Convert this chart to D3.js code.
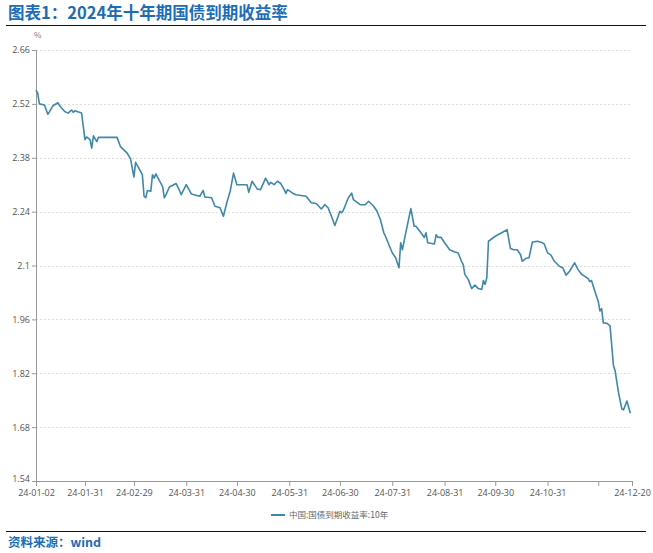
<!DOCTYPE html>
<html>
<head>
<meta charset="utf-8">
<script src="https://cdn.jsdelivr.net/npm/d3@7"></script>
<style>
  body { margin: 0; background: #fff; font-family: "Noto Sans CJK SC", "Noto Sans", sans-serif; }
  .axis text { font-family: "Open Sans", "Noto Sans", sans-serif; font-size: 9px; fill: #555; }
  .axis path, .axis line { stroke: #999; }
</style>
</head>
<body>
<div class="chart"></div>
<script>
// 中国:国债到期收益率:10年 (%), 2024
const dates = [
  "2024-01-02","2024-01-03","2024-01-04","2024-01-07","2024-01-09","2024-01-10","2024-01-12","2024-01-15",
  "2024-01-16","2024-01-19","2024-01-21","2024-01-23","2024-01-24","2024-01-25","2024-01-29","2024-01-31",
  "2024-02-01","2024-02-03","2024-02-04","2024-02-05","2024-02-07","2024-02-08","2024-02-19","2024-02-21",
  "2024-02-25","2024-02-27","2024-02-29","2024-03-01","2024-03-05","2024-03-06","2024-03-07","2024-03-08",
  "2024-03-10","2024-03-11","2024-03-12","2024-03-13","2024-03-15","2024-03-17","2024-03-18","2024-03-19",
  "2024-03-21","2024-03-25","2024-03-27","2024-03-28","2024-03-31","2024-04-03","2024-04-08","2024-04-10",
  "2024-04-11","2024-04-15","2024-04-17","2024-04-20","2024-04-22","2024-04-24","2024-04-26","2024-04-28",
  "2024-04-30","2024-05-06","2024-05-07","2024-05-09","2024-05-12","2024-05-14","2024-05-17","2024-05-19",
  "2024-05-20","2024-05-22","2024-05-24","2024-05-26","2024-05-28","2024-05-29","2024-05-30","2024-06-02",
  "2024-06-04","2024-06-10","2024-06-13","2024-06-16","2024-06-19","2024-06-21","2024-06-23","2024-06-25",
  "2024-06-27","2024-06-30","2024-07-01","2024-07-02","2024-07-05","2024-07-07","2024-07-08","2024-07-12",
  "2024-07-15","2024-07-17","2024-07-20","2024-07-22","2024-07-24","2024-07-26","2024-07-27","2024-07-29",
  "2024-07-31","2024-08-02","2024-08-04","2024-08-05","2024-08-06","2024-08-08","2024-08-11","2024-08-13",
  "2024-08-14","2024-08-17","2024-08-19","2024-08-20","2024-08-21","2024-08-25","2024-08-26","2024-08-27",
  "2024-08-29","2024-08-31","2024-09-03","2024-09-06","2024-09-08","2024-09-10","2024-09-11","2024-09-12",
  "2024-09-14","2024-09-16","2024-09-18","2024-09-20","2024-09-22","2024-09-23","2024-09-24","2024-09-25",
  "2024-09-26","2024-09-30","2024-10-07","2024-10-09","2024-10-11","2024-10-13","2024-10-15","2024-10-16",
  "2024-10-18","2024-10-20","2024-10-22","2024-10-25","2024-10-28","2024-10-29","2024-10-31","2024-11-02",
  "2024-11-04","2024-11-07","2024-11-09","2024-11-11","2024-11-13","2024-11-16","2024-11-18","2024-11-20",
  "2024-11-24","2024-11-25","2024-11-26","2024-11-28","2024-11-30","2024-12-01","2024-12-02","2024-12-03",
  "2024-12-05","2024-12-07","2024-12-09","2024-12-10","2024-12-12","2024-12-14","2024-12-15","2024-12-17",
  "2024-12-19"
];
const yields = [
  2.556,2.548,2.520,2.517,2.493,2.500,2.515,2.523,
  2.515,2.500,2.496,2.504,2.498,2.502,2.496,2.427,
  2.434,2.427,2.405,2.437,2.422,2.433,2.433,2.409,
  2.392,2.377,2.330,2.368,2.336,2.280,2.276,2.295,
  2.293,2.336,2.327,2.338,2.321,2.305,2.276,2.284,
  2.304,2.313,2.295,2.284,2.310,2.286,2.280,2.295,
  2.278,2.276,2.254,2.250,2.228,2.263,2.293,2.340,
  2.310,2.310,2.290,2.319,2.299,2.297,2.327,2.310,
  2.316,2.310,2.319,2.313,2.297,2.287,2.297,2.288,
  2.284,2.280,2.263,2.261,2.247,2.258,2.250,2.228,
  2.204,2.241,2.237,2.243,2.276,2.288,2.271,2.258,
  2.258,2.267,2.254,2.241,2.219,2.185,2.176,2.154,
  2.133,2.120,2.094,2.159,2.141,2.185,2.248,2.202,
  2.202,2.185,2.173,2.185,2.159,2.156,2.180,2.173,
  2.173,2.159,2.141,2.135,2.133,2.111,2.103,2.077,
  2.064,2.040,2.049,2.040,2.038,2.061,2.051,2.068,
  2.163,2.176,2.193,2.144,2.141,2.141,2.128,2.111,
  2.118,2.120,2.161,2.163,2.159,2.156,2.133,2.127,
  2.111,2.098,2.094,2.075,2.085,2.107,2.090,2.078,
  2.066,2.058,2.061,2.033,2.007,1.982,1.988,1.951,
  1.950,1.943,1.841,1.826,1.770,1.727,1.725,1.748,
  1.716
];
const yTicks = [1.54, 1.68, 1.82, 1.96, 2.1, 2.24, 2.38, 2.52, 2.66];
const xTicks = ["2024-01-02","2024-01-31","2024-02-29","2024-03-31","2024-04-30","2024-05-31",
  "2024-06-30","2024-07-31","2024-08-31","2024-09-30","2024-10-31","2024-11-30","2024-12-20"];
const unlabeledTicks = ["2024-11-30"];
const title = "图表1：2024年十年期国债到期收益率";
const seriesName = "中国:国债到期收益率:10年";
const source = "资料来源：wind";

const parse = d3.timeParse("%Y-%m-%d");
const data = dates.map((d, i) => ({ date: parse(d), value: yields[i] }));

const W = 653, H = 553;
const margin = { top: 50, right: 21, bottom: 72, left: 36 };
const width = W - margin.left - margin.right;
const height = H - margin.top - margin.bottom;

const svg = d3.select(".chart").append("svg")
  .attr("width", W)
  .attr("height", H);

// title and rules
svg.append("text")
  .attr("x", 8).attr("y", 19)
  .attr("fill", "#1c6db5")
  .style("font-size", "16.5px").style("font-weight", "bold")
  .text(title);
svg.append("line").attr("x1", 6).attr("x2", 646).attr("y1", 25.5).attr("y2", 25.5)
  .attr("stroke", "#111").attr("stroke-width", 1.2);
svg.append("line").attr("x1", 6).attr("x2", 646).attr("y1", 531.5).attr("y2", 531.5)
  .attr("stroke", "#111").attr("stroke-width", 1.2);
svg.append("text")
  .attr("x", 8).attr("y", 547)
  .attr("fill", "#1c6db5")
  .style("font-size", "12.5px").style("font-weight", "bold")
  .text(source);

const g = svg.append("g")
  .attr("transform", "translate(" + margin.left + "," + margin.top + ")");

const x = d3.scaleTime()
  .domain([parse(xTicks[0]), parse(xTicks[xTicks.length - 1])])
  .range([0, width]);
const y = d3.scaleLinear()
  .domain([yTicks[0], yTicks[yTicks.length - 1]])
  .range([height, 0]);

// gridlines
g.selectAll(".grid")
  .data(yTicks.slice(1))
  .enter().append("line")
  .attr("class", "grid")
  .attr("x1", 0).attr("x2", width)
  .attr("y1", d => Math.round(y(d)) + 0.5).attr("y2", d => Math.round(y(d)) + 0.5)
  .attr("stroke", "#ddd")
  .attr("stroke-dasharray", "2,2");

const fmtY = d => String(+d.toFixed(2));
const yAxis = d3.axisLeft(y).tickValues(yTicks).tickFormat(fmtY).tickSize(4).tickPadding(2);
g.append("g").attr("class", "y-axis axis").call(yAxis)
  .call(a => a.select(".domain").attr("d", "M0.5," + height + "V0"))
  .call(a => a.selectAll(".tick text").filter(d => d === yTicks[0]).attr("dy", "0.1em"));

const fmtX = d3.timeFormat("%y-%m-%d");
const xAxis = d3.axisBottom(x)
  .tickValues(xTicks.map(parse))
  .tickFormat(d => unlabeledTicks.includes(d3.timeFormat("%Y-%m-%d")(d)) ? "" : fmtX(d))
  .tickSize(5).tickSizeOuter(0).tickPadding(4);
g.append("g").attr("class", "x-axis axis")
  .attr("transform", "translate(0," + height + ")")
  .call(xAxis);

g.append("text")
  .attr("x", -2).attr("y", -12)
  .attr("fill", "#777")
  .style("font-size", "8px")
  .text("%");

const line = d3.line()
  .x(d => x(d.date))
  .y(d => y(d.value));
g.append("path")
  .datum(data)
  .attr("fill", "none")
  .attr("stroke", "#3f88aa")
  .attr("stroke-width", 1.6)
  .attr("stroke-linejoin", "round")
  .attr("d", line);

// legend
const legend = svg.append("g").attr("transform", "translate(271,515)");
legend.append("line").attr("x1", 0).attr("x2", 14).attr("y1", 0).attr("y2", 0)
  .attr("stroke", "#3f88aa").attr("stroke-width", 2);
legend.append("text")
  .attr("x", 18).attr("y", 3.2)
  .attr("fill", "#666")
  .style("font-size", "8.5px")
  .text(seriesName);
</script>
</body>
</html>
